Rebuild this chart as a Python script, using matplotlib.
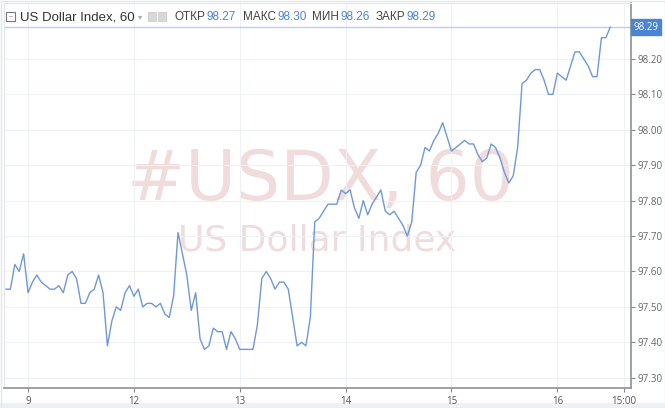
import numpy as np
import matplotlib.pyplot as plt
from matplotlib.patches import Rectangle
from matplotlib import font_manager

# hourly closes, from 19:00 on the 8th up to 12:00 on the 16th
start_hour = -5
closes = [
	97.55, 97.55, 97.62, 97.60, 97.65,
	97.54, 97.57, 97.59, 97.57, 97.56, 97.55, 97.55, 97.56, 97.54, 97.59, 97.60, 97.58,
	97.51, 97.51, 97.54, 97.55, 97.59, 97.54, 97.39, 97.46, 97.50, 97.49, 97.54, 97.56,
	97.53, 97.55, 97.50, 97.51, 97.51, 97.50, 97.51, 97.48, 97.47, 97.53, 97.71, 97.65,
	97.59, 97.49, 97.54, 97.41, 97.38, 97.39, 97.44, 97.43, 97.43, 97.38, 97.43, 97.41,
	97.38, 97.38, 97.38, 97.38, 97.45, 97.58, 97.60, 97.58, 97.55, 97.57, 97.57, 97.55,
	97.47, 97.39, 97.40, 97.39, 97.47, 97.74, 97.75, 97.77, 97.79, 97.79, 97.79, 97.83,
	97.82, 97.83, 97.78, 97.75, 97.80, 97.76, 97.79, 97.81, 97.83, 97.77, 97.76, 97.77,
	97.75, 97.73, 97.70, 97.74, 97.88, 97.90, 97.95, 97.94, 97.97, 97.99, 98.02, 97.98,
	97.94, 97.95, 97.96, 97.97, 97.96, 97.96, 97.93, 97.91, 97.92, 97.96, 97.95, 97.92,
	97.88, 97.85, 97.87, 97.95, 98.13, 98.14, 98.16, 98.17, 98.17, 98.14, 98.10, 98.10,
	98.16, 98.15, 98.14, 98.18, 98.22, 98.22, 98.20, 98.18, 98.15, 98.15, 98.26, 98.26,
	98.29,
]
hours = np.arange(start_hour, start_hour + len(closes))

xtick_hours = [0, 24, 48, 72, 96, 120, 135]
xtick_labels = ['9', '12', '13', '14', '15', '16', '15:00']
yticks = [97.30, 97.40, 97.50, 97.60, 97.70, 97.80, 97.90, 98.00, 98.10, 98.20]

last_price = 98.29
title = 'US Dollar Index, 60'
header_stats = [('ОТКР', '98.27'), ('МАКС', '98.30'), ('МИН', '98.26'), ('ЗАКР', '98.29')]

line_col = '#6f98d8'
blue = '#4a84d2'
grid_col = '#eef1f5'
wm_col = '#f0dcdc'
plt.rcParams['font.family'] = ['Open Sans', 'DejaVu Sans']

names = set(f.name for f in font_manager.fontManager.ttflist)
narrow = 'Liberation Sans Narrow' if 'Liberation Sans Narrow' in names else 'Liberation Sans'
head_font = [narrow, 'DejaVu Sans']

fig = plt.figure(figsize=(6.65, 4.08), dpi=100)
fig.patch.set_facecolor('white')
ax = fig.add_axes([4/665, 20/408, 627/665, 385/408])

ax.set_xlim(-5.45, 136.7)
ax.set_ylim(97.271, 98.358)

# watermark
ax.text(0.504, 0.488, '#USDX, 60', transform=ax.transAxes, ha='center', va='baseline',
	fontsize=50, color=wm_col, family='DejaVu Sans', zorder=0)
ax.text(0.50, 0.358, 'US Dollar Index', transform=ax.transAxes, ha='center', va='baseline',
	fontsize=26, color=wm_col, family='DejaVu Sans', zorder=0)

ax.plot(hours, closes, color=line_col, lw=1.0, zorder=3)
ax.axhline(last_price, color='#bcd0ee', lw=1.0, zorder=2)

ax.set_xticks(xtick_hours)
ax.set_xticklabels(xtick_labels)
ax.set_yticks(yticks)
ax.set_yticklabels(['%.2f' % v for v in yticks])
ax.yaxis.tick_right()
ax.grid(True, color=grid_col, lw=0.8, zorder=0)
ax.set_axisbelow(True)
ax.tick_params(axis='y', length=3, width=0.8, color='#888888', labelsize=7, labelcolor='#666666', pad=2)
ax.tick_params(axis='x', length=3, width=0.8, color='#888888', labelsize=7, labelcolor='#555555', pad=3)
for s in ['top', 'left']:
	ax.spines[s].set_color('#e3e6ea')
	ax.spines[s].set_linewidth(0.8)
for s in ['right', 'bottom']:
	ax.spines[s].set_color('#8d9096')
	ax.spines[s].set_linewidth(1.2)

# last price tag on the right scale
ax.annotate('%.2f' % last_price, xy=(1.0, last_price), xycoords=('axes fraction', 'data'),
	xytext=(2, 0), textcoords='offset points', ha='left', va='center', fontsize=7, color='white',
	bbox=dict(boxstyle='square,pad=0.25', fc=blue, ec=blue), annotation_clip=False)

# header
renderer = fig.canvas.get_renderer()
hy = 1 - 17/408
fig.patches.append(Rectangle((6/665, hy - 4.5/408), 9/665, 9/408, transform=fig.transFigure,
	fill=False, ec='#777777', lw=0.8))
fig.text(10.5/665, hy, '–', ha='center', va='center', fontsize=6, color='#777777')
t = fig.text(20/665, hy, title, ha='left', va='center', fontsize=9.5,
	color='#333333', family=head_font)
tend = t.get_window_extent(renderer).x1
xa = max(131, tend + 5)
fig.text(xa/665, hy, '▾', ha='center', va='center', fontsize=6, color='#aaaaaa', family='DejaVu Sans')
xs = max(143, xa + 8)
for x0 in [xs, xs + 10]:
	fig.patches.append(Rectangle((x0/665, hy - 4.5/408), 8/665, 9/408, transform=fig.transFigure,
		fc='#d8d8d8', ec='#c8c8c8', lw=0.5))

xcur = xs + 27
targets = [(172, 199), (243, 262), (299, 320), (354, 380)]
for (lab, val), (xl, xv) in zip(header_stats, targets):
	xl = max(xl, xcur)
	t = fig.text(xl/665, hy, lab, ha='left', va='center', fontsize=8.5, color='#444444', family=head_font)
	r = t.get_window_extent(renderer).x1
	xv = max(xv, r + 1)
	t = fig.text(xv/665, hy, val, ha='left', va='center', fontsize=8.5, color=blue, family=head_font)
	xcur = t.get_window_extent(renderer).x1 + 6

# light frame and bottom band
fig.patches.append(Rectangle((0, 0), 1, 5/408, transform=fig.transFigure, fc='#eef1f4', ec='none', zorder=-1))
fig.patches.append(Rectangle((0.5/665, 0.5/408), 664/665, 407/408, transform=fig.transFigure,
	fill=False, ec='#e3e6ea', lw=1))

fig.savefig('out.png', dpi=100, facecolor='white')
